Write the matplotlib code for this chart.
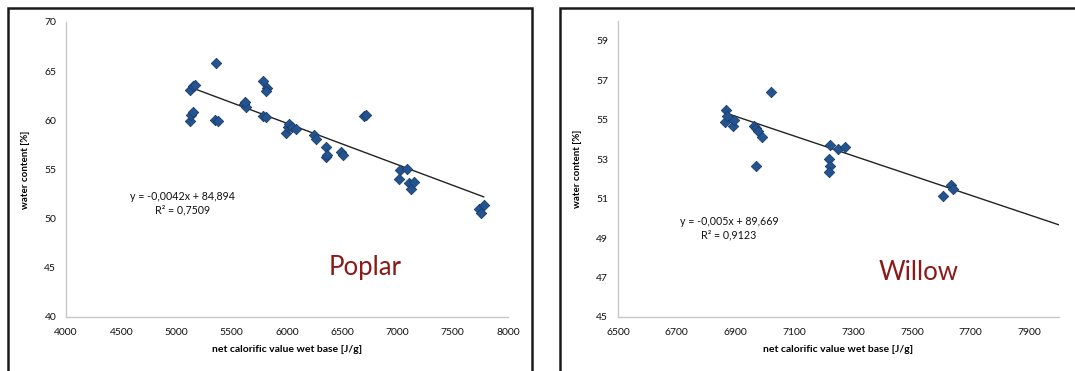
import matplotlib
matplotlib.use("Agg")
import numpy as np
import matplotlib.pyplot as plt
from matplotlib.patches import Rectangle

plt.rcParams['font.family'] = ['Lato', 'DejaVu Sans']

# %% data
# poplar
poplar_x = [5120, 5130, 5150, 5125, 5150, 5165, 5355, 5345, 5375, 5612,
            5628, 5620, 5785, 5816, 5807, 5785, 5807, 5995, 6005, 6020,
            6045, 6077, 6240, 6265, 6350, 6350, 6365, 6485, 6507, 6696,
            6718, 7020, 7010, 7082, 7104, 7120, 7151, 7742, 7755, 7780]
poplar_y = [59.9, 60.5, 60.8, 63.1, 63.5, 63.6, 65.8, 60.0, 59.9, 61.7,
            61.4, 61.9, 64.0, 63.3, 63.0, 60.4, 60.3, 58.7, 59.3, 59.6,
            59.35, 59.1, 58.5, 58.06, 57.3, 56.3, 56.5, 56.8, 56.5, 60.4,
            60.5, 54.9, 54.0, 55.1, 53.6, 53.0, 53.7, 51.0, 50.6, 51.4]
poplar_fit = (-0.0042, 84.894)
poplar_r2 = "0,7509"

# willow
willow_x = [6867, 6863, 6870, 6890, 6896, 6963, 6971, 6977, 6991, 6968,
            7021, 7222, 7219, 7222, 7218, 7247, 7272, 7606, 7632, 7640]
willow_y = [55.5, 54.9, 55.2, 54.7, 54.96, 54.7, 54.6, 54.45, 54.1, 52.67,
            56.4, 53.7, 53.0, 52.67, 52.33, 53.5, 53.6, 51.15, 51.7, 51.5]
willow_fit = (-0.005, 89.669)
willow_r2 = "0,9123"


# %% figure
W, H = 1075, 371
fig = plt.figure(figsize=(W / 100, H / 100), dpi=100)

# panel frames (cut off by the image edge)
for x0, x1 in [(8, 532), (560, 1090)]:
    fig.patches.append(Rectangle((x0 / W, -0.1), (x1 - x0) / W, 1.1 - 8 / H,
                                 transform=fig.transFigure, fill=False,
                                 edgecolor='#1a1a1a', lw=1.8))

marker_kw = dict(marker='D', s=28, facecolor='#24548f', edgecolor='#1b3c6e',
                 linewidths=0.6, zorder=3)


def panel(rect, xs, ys, fit, r2, xlim, xticks, ylim, yticks, eq_xy, name, name_xy,
          xfit):
    ax = fig.add_axes(rect)
    ax.scatter(xs, ys, **marker_kw)
    a, b = fit
    xf = np.array(xfit)
    ax.plot(xf, a * xf + b, color='#222222', lw=1.0, zorder=2)
    ax.set_xlim(*xlim)
    ax.set_ylim(*ylim)
    ax.set_xticks(xticks)
    ax.set_yticks(yticks)
    ax.tick_params(length=0, labelsize=7.5, colors='#111111')
    ax.tick_params(axis='x', pad=8)
    ax.tick_params(axis='y', pad=7)
    for s in ['top', 'right']:
        ax.spines[s].set_visible(False)
    for s in ['left', 'bottom']:
        ax.spines[s].set_color('#c8c8c8')
        ax.spines[s].set_linewidth(1.0)
    ax.set_xlabel('net calorific value wet base [J/g]', fontsize=7.5,
                  fontweight='bold', labelpad=6)
    ax.set_ylabel('water content [%]', fontsize=7, fontweight='bold', labelpad=10)
    sign = '-' if a < 0 else ''
    eq = 'y = %s%sx + %s' % (sign, ('%g' % abs(a)).replace('.', ','),
                             ('%.3f' % b).replace('.', ','))
    ax.text(eq_xy[0], eq_xy[1], eq + '\nR² = ' + r2, transform=ax.transAxes,
            fontsize=7.7, ha='center', va='center', linespacing=1.3,
            color='#111111')
    ax.text(name_xy[0], name_xy[1], name, transform=ax.transAxes,
            fontsize=18.5, color='#8b1a1a', ha='center', va='center')
    return ax


def axrect(x0, x1, ytop, ybot):
    return [x0 / W, 1 - ybot / H, (x1 - x0) / W, (ybot - ytop) / H]


panel(axrect(66, 508, 22, 317), poplar_x, poplar_y, poplar_fit, poplar_r2,
      (4000, 8000), range(4000, 8001, 500), (40, 70), range(40, 71, 5),
      ((183 - 66) / 442, (317 - 203) / 295), 'Poplar',
      ((365 - 66) / 442, (317 - 267) / 295),
      [min(poplar_x), max(poplar_x)])

panel(axrect(618, 1059, 21, 317), willow_x, willow_y, willow_fit, willow_r2,
      (6500, 8000), range(6500, 7901, 200), (45, 60), range(45, 60, 2),
      ((729 - 618) / 441, (317 - 228) / 296), 'Willow',
      ((919 - 618) / 441, (317 - 273) / 296),
      [min(willow_x), 8000])

fig.savefig('out.png', dpi=100)
